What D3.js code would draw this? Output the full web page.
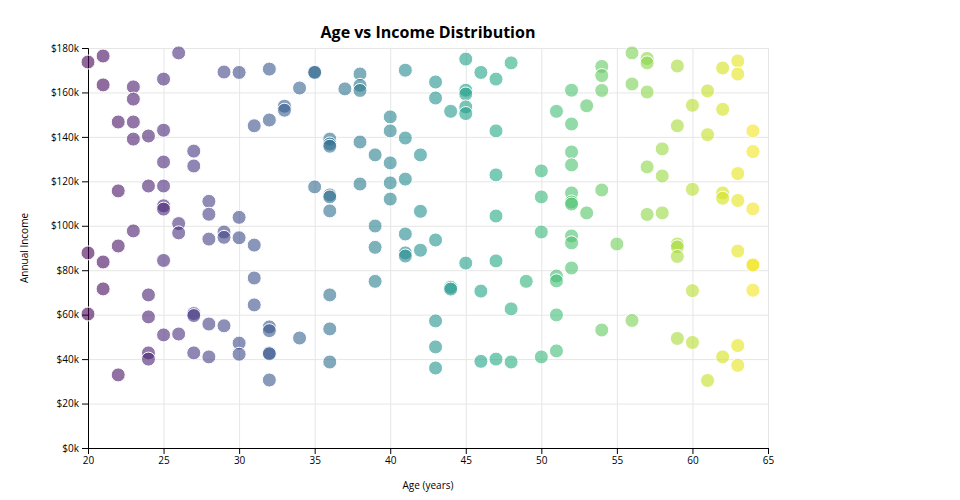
<!DOCTYPE html>
<html>
<head>
<meta charset="utf-8">
<style>
    body { margin: 0; background: #fff; font-family: "Open Sans", sans-serif; }
    .grid line { stroke: #e6e6e6; }
    .grid path { display: none; }
    .axis text { font-size: 10px; font-family: "Open Sans", sans-serif; fill: #000; }
</style>
</head>
<body>
<svg width="960" height="500"></svg>
<script src="https://cdnjs.cloudflare.com/ajax/libs/d3/7.8.5/d3.min.js"></script>
<script>
    // ages and incomes (in $k)
    const ages = [
        20, 20, 20,
        21, 21, 21, 21,
        22, 22, 22, 22,
        23, 23, 23, 23, 23,
        24, 24, 24, 24, 24, 24,
        25, 25, 25, 25, 25, 25, 25, 25,
        26, 26, 26, 26,
        27, 27, 27, 27, 27,
        28, 28, 28, 28, 28,
        29, 29, 29, 29,
        30, 30, 30, 30, 30,
        31, 31, 31, 31,
        32, 32, 32, 32, 32, 32, 32,
        33, 33,
        34, 34,
        35, 35, 35,
        36, 36, 36, 36, 36, 36, 36, 36, 36,
        37,
        38, 38, 38, 38, 38,
        39, 39, 39, 39,
        40, 40, 40, 40, 40,
        41, 41, 41, 41, 41, 41,
        42, 42, 42,
        43, 43, 43, 43, 43, 43,
        44, 44, 44,
        45, 45, 45, 45, 45, 45,
        46, 46, 46,
        47, 47, 47, 47, 47, 47,
        48, 48, 48,
        49,
        50, 50, 50, 50,
        51, 51, 51, 51, 51,
        52, 52, 52, 52, 52, 52, 52, 52, 52, 52,
        53, 53,
        54, 54, 54, 54, 54,
        55,
        56, 56, 56,
        57, 57, 57, 57, 57,
        58, 58, 58,
        59, 59, 59, 59, 59, 59,
        60, 60, 60, 60,
        61, 61, 61,
        62, 62, 62, 62, 62,
        63, 63, 63, 63, 63, 63, 63,
        64, 64, 64, 64, 64, 64
    ];
    const incomes = [
        173.7, 87.8, 60.3,
        176.4, 163.4, 83.7, 71.6,
        146.7, 115.7, 90.9, 32.9,
        162.5, 157.0, 146.7, 139.0, 97.7,
        140.4, 117.9, 68.9, 59.0, 42.8, 40.0,
        166.0, 143.0, 128.7, 117.9, 109.0, 107.5, 84.4, 50.9,
        177.8, 101.0, 96.8, 51.3,
        133.6, 126.9, 60.5, 59.6, 42.8,
        111.0, 105.2, 94.0, 55.8, 41.0,
        169.2, 97.2, 94.8, 55.0,
        169.0, 103.8, 94.6, 47.2, 42.2,
        145.0, 91.3, 76.5, 64.4,
        170.5, 147.6, 54.5, 52.8, 42.8, 42.4, 30.6,
        153.8, 152.0,
        162.0, 49.5,
        169.2, 169.0, 117.5,
        139.0, 136.8, 135.8, 113.9, 113.0, 106.7, 68.9, 53.6, 38.7,
        161.6,
        168.3, 163.2, 160.9, 137.7, 118.8,
        131.9, 99.9, 90.3, 75.0,
        149.0, 142.7, 128.3, 119.3, 112.0,
        170.0, 139.5, 121.0, 96.3, 87.8, 86.4,
        131.9, 106.5, 89.0,
        164.7, 157.5, 93.6, 57.2, 45.5, 36.0,
        151.5, 72.3, 71.5,
        175.0, 161.0, 159.3, 153.5, 150.5, 83.2,
        169.0, 70.6, 39.0,
        166.0, 142.7, 122.9, 104.4, 84.2, 40.0,
        173.3, 62.6, 38.7,
        75.0,
        124.7, 113.0, 97.2, 41.0,
        151.5, 77.4, 75.2, 59.9, 43.7,
        161.0, 145.8, 133.2, 127.4, 114.8, 110.7, 109.8, 95.4, 92.3, 81.0,
        154.0, 105.8,
        171.7, 167.6, 160.9, 116.1, 53.1,
        91.8,
        177.8, 163.8, 57.4,
        175.3, 173.3, 160.2, 126.5, 105.1,
        134.6, 122.4, 105.8,
        171.9, 145.0, 91.8, 90.5, 86.2, 49.3,
        154.2, 116.4, 70.8, 47.5,
        160.7, 141.0, 30.4,
        171.0, 152.4, 114.8, 112.4, 41.0,
        174.2, 168.3, 123.5, 111.4, 88.6, 46.1, 37.2,
        142.7, 133.4, 107.6, 82.6, 82.3, 71.0
    ];
    const xTicks = [20, 25, 30, 35, 40, 45, 50, 55, 60, 65];
    const yTicks = [0, 20, 40, 60, 80, 100, 120, 140, 160, 180];

    const svg = d3.select('svg');
    const margin = {top: 48, left: 88, right: 192, bottom: 52};
    const width = 960 - margin.left - margin.right;
    const height = 500 - margin.top - margin.bottom;

    const x = d3.scaleLinear().domain([20, 65]).range([0, width]);
    const y = d3.scaleLinear().domain([0, 180]).range([height, 0]);
    const color = d3.scaleSequential(d3.interpolateViridis).domain([20, 65]);

    const g = svg.append('g').attr('transform', `translate(${margin.left},${margin.top})`);

    g.append('g')
        .attr('class', 'grid')
        .attr('transform', `translate(0,${height})`)
        .call(d3.axisBottom(x).tickValues(xTicks).tickSize(-height).tickFormat(''));

    g.append('g')
        .attr('class', 'grid')
        .call(d3.axisLeft(y).tickValues(yTicks).tickSize(-width).tickFormat(''));

    g.append('g')
        .attr('class', 'axis')
        .attr('transform', `translate(0,${height})`)
        .call(d3.axisBottom(x).tickValues(xTicks).tickSizeOuter(6));

    g.append('g')
        .attr('class', 'axis')
        .call(d3.axisLeft(y).tickValues(yTicks).tickFormat(d => '$' + d + 'k').tickSizeOuter(6));

    const points = ages.map((a, i) => ({age: a, income: incomes[i]}));

    // dots go on top of the axes, like in the original
    g.selectAll('circle')
        .data(points)
        .enter()
        .append('circle')
        .attr('cx', d => x(d.age))
        .attr('cy', d => y(d.income))
        .attr('r', 7)
        .attr('fill', d => color(d.age))
        .attr('fill-opacity', 0.6)
        .attr('stroke', '#fff')
        .attr('stroke-width', 1);

    svg.append('text')
        .attr('x', margin.left + width / 2)
        .attr('y', 38)
        .attr('text-anchor', 'middle')
        .style('font-size', '16px')
        .style('font-weight', 'bold')
        .text('Age vs Income Distribution');

    svg.append('text')
        .attr('x', margin.left + width / 2)
        .attr('y', 489)
        .attr('text-anchor', 'middle')
        .style('font-size', '10px')
        .text('Age (years)');

    svg.append('text')
        .attr('transform', `translate(28,${margin.top + height / 2}) rotate(-90)`)
        .attr('text-anchor', 'middle')
        .style('font-size', '10px')
        .text('Annual Income');
</script>
</body>
</html>
